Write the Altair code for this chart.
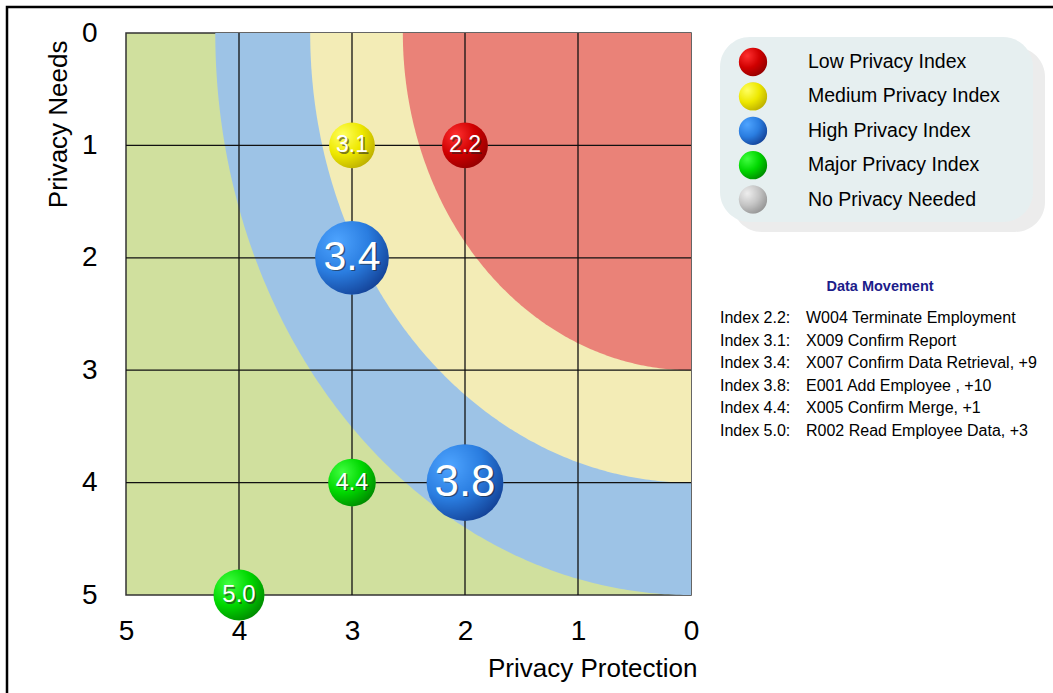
import altair as alt
import pandas as pd
import numpy as np

# ---------------- data ----------------
protection = [2, 3, 3, 2, 3, 4]
needs = [1, 1, 2, 4, 4, 5]
index_vals = [2.2, 3.1, 3.4, 3.8, 4.4, 5.0]
levels = ["Low", "Medium", "High", "High", "Major", "Major"]
movements = [1, 1, 10, 11, 2, 4]

zone_names = ["High", "Medium", "Low"]
zone_rx = [4.21, 3.37, 2.55]
zone_ry = [5.0, 4.0, 3.0]

legend_levels = ["Low", "Medium", "High", "Major", "None"]
legend_labels = ["Low Privacy Index", "Medium Privacy Index", "High Privacy Index",
                 "Major Privacy Index", "No Privacy Needed"]

dm_title = "Data Movement"
dm_index = ["Index 2.2:", "Index 3.1:", "Index 3.4:", "Index 3.8:", "Index 4.4:", "Index 5.0:"]
dm_text = ["W004 Terminate Employment", "X009  Confirm Report",
           "X007  Confirm Data Retrieval, +9", "E001  Add Employee , +10",
           "X005  Confirm Merge, +1", "R002  Read Employee Data, +3"]

axis_ticks = [0, 1, 2, 3, 4, 5]
grid_vals = [1, 2, 3, 4]

# ---------------- styles ----------------
FONT = "Liberation Sans, Arial, sans-serif"
W, H = 565, 562
PADL, PADT = 126, 33

zone_colors = {"High": "#9dc3e6", "Medium": "#f3ecb6", "Low": "#ea8278"}
grad_cols = {
    "Low": ("#ff3030", "#d00000", "#7a0000"),
    "Medium": ("#ffff60", "#eee800", "#a89800"),
    "High": ("#4ea4ff", "#2a7de0", "#0a2a7a"),
    "Major": ("#40ff40", "#00d800", "#006a00"),
    "None": ("#eeeeee", "#c4c4c4", "#808080"),
}


def grad(level):
    c0, c1, c2 = grad_cols[level]
    return alt.RadialGradient(
        gradient="radial", x1=0.3, y1=0.28, r1=0.0, x2=0.3, y2=0.28, r2=0.95,
        stops=[alt.GradientStop(color=c0, offset=0.0),
               alt.GradientStop(color=c1, offset=0.45),
               alt.GradientStop(color=c2, offset=1.0)])


xs = alt.Scale(domain=[0, 5], reverse=True, nice=False)
ys = alt.Scale(domain=[0, 5], reverse=True, nice=False)

xaxis = alt.Axis(values=axis_ticks, format="d", grid=False, domain=False, ticks=False,
                 labelFontSize=28, labelFont=FONT, labelColor="black", labelPadding=22,
                 labelFlush=False, labelOverlap=False,
                 title="Privacy Protection", titleFontSize=26, titleFont=FONT,
                 titleFontWeight="normal", titleColor="black", titleAlign="right",
                 titleX=W + 6, titleY=73, titleBaseline="middle")
yaxis = alt.Axis(values=axis_ticks, format="d", grid=False, domain=False, ticks=False,
                 labelFontSize=28, labelFont=FONT, labelColor="black", labelPadding=29,
                 labelFlush=False, labelOverlap=False,
                 title="Privacy Needs", titleFontSize=26, titleFont=FONT,
                 titleFontWeight="normal", titleColor="black", titleAngle=270,
                 titleAlign="right", titleX=-68, titleY=7, titleBaseline="middle")

xenc = alt.X("p:Q", scale=xs, axis=xaxis)
yenc = alt.Y("n:Q", scale=ys, axis=yaxis)

layers = []

# zones (elliptical bands centred on the 0/0 corner)
t = np.linspace(0, np.pi / 2, 200)
for name, rx, ry in zip(zone_names, zone_rx, zone_ry):
    zdf = pd.DataFrame({"p": rx * np.cos(t), "n": ry * np.sin(t)})
    layers.append(alt.Chart(zdf).mark_area(color=zone_colors[name], opacity=1).encode(
        x=xenc, y=yenc, y2=alt.datum(0)))

# grid lines
layers.append(alt.Chart(pd.DataFrame({"p": grid_vals})).mark_rule(color="#111", strokeWidth=1.3).encode(
    x=xenc, y=alt.value(0), y2=alt.value(H)))
layers.append(alt.Chart(pd.DataFrame({"n": grid_vals})).mark_rule(color="#111", strokeWidth=1.3).encode(
    y=yenc, x=alt.value(0), x2=alt.value(W)))

# bubbles
bdf = pd.DataFrame({"p": protection, "n": needs, "idx": index_vals,
                    "level": levels, "mv": movements})
size_scale = alt.Scale(type="linear", domain=[1, 4, 11], range=[2100, 2600, 5900])
text_scale = alt.Scale(type="linear", domain=[1, 4, 10], range=[23, 24, 41])
for lvl in ["Low", "Medium", "High", "Major"]:
    layers.append(alt.Chart(bdf).transform_filter(alt.datum.level == lvl).mark_circle(
        fill=grad(lvl), opacity=1, strokeWidth=0).encode(
        x=xenc, y=yenc, size=alt.Size("mv:Q", scale=size_scale, legend=None)))

layers.append(alt.Chart(bdf).mark_text(font=FONT, color="#222", opacity=0.55, dx=1.5, dy=1.5,
                                       baseline="middle", align="center").encode(
    x=xenc, y=yenc, text=alt.Text("idx:Q", format=".1f"),
    size=alt.Size("mv:Q", scale=text_scale, legend=None)))
layers.append(alt.Chart(bdf).mark_text(font=FONT, color="white",
                                       baseline="middle", align="center").encode(
    x=xenc, y=yenc, text=alt.Text("idx:Q", format=".1f"),
    size=alt.Size("mv:Q", scale=text_scale, legend=None)))

one = pd.DataFrame({"a": [0]})

# legend box with shadow
layers.append(alt.Chart(one).mark_rect(fill="#ececec", cornerRadius=30).encode(
    x=alt.value(606), x2=alt.value(919), y=alt.value(14), y2=alt.value(199)))
layers.append(alt.Chart(one).mark_rect(fill="#e6eff0", cornerRadius=30).encode(
    x=alt.value(594), x2=alt.value(907), y=alt.value(4), y2=alt.value(189)))

for i, (lvl, lab) in enumerate(zip(legend_levels, legend_labels)):
    yy = 29 + 34.4 * i
    layers.append(alt.Chart(one).mark_circle(fill=grad(lvl), opacity=1, size=800, strokeWidth=0).encode(
        x=alt.value(627), y=alt.value(yy)))
    ldf = pd.DataFrame({"label": [lab]})
    layers.append(alt.Chart(ldf).mark_text(font=FONT, fontSize=19.5, align="left", baseline="middle",
                                           color="black").encode(
        x=alt.value(682), y=alt.value(yy), text="label:N"))

# data movement text
layers.append(alt.Chart(pd.DataFrame({"label": [dm_title]})).mark_text(
    font=FONT, fontSize=14.5, fontWeight="bold", color="#1c1c8a", align="center", baseline="middle").encode(
    x=alt.value(754), y=alt.value(254), text="label:N"))
for i, (a, b) in enumerate(zip(dm_index, dm_text)):
    yy = 285 + 22.6 * i
    layers.append(alt.Chart(pd.DataFrame({"label": [a]})).mark_text(
        font=FONT, fontSize=16, align="left", baseline="middle", color="black").encode(
        x=alt.value(594), y=alt.value(yy), text="label:N"))
    layers.append(alt.Chart(pd.DataFrame({"label": [b]})).mark_text(
        font=FONT, fontSize=16, align="left", baseline="middle", color="black").encode(
        x=alt.value(680), y=alt.value(yy), text="label:N"))

# outer frame
layers.append(alt.Chart(one).mark_rect(filled=False, stroke="black", strokeWidth=2.5).encode(
    x=alt.value(7 - PADL), x2=alt.value(1070 - PADL), y=alt.value(7 - PADT), y2=alt.value(710 - PADT)))

chart = alt.layer(*layers).resolve_scale(size="independent").properties(
    width=W, height=H,
    padding={"left": PADL, "top": PADT, "right": 1053 - PADL - W, "bottom": 693 - PADT - H},
    autosize=alt.AutoSizeParams(type="none"),
    background="white",
).configure_view(stroke="#333", strokeWidth=1.5, fill="#d0e09e")

chart.save("out.html", embed_options={"renderer": "svg", "actions": False})
